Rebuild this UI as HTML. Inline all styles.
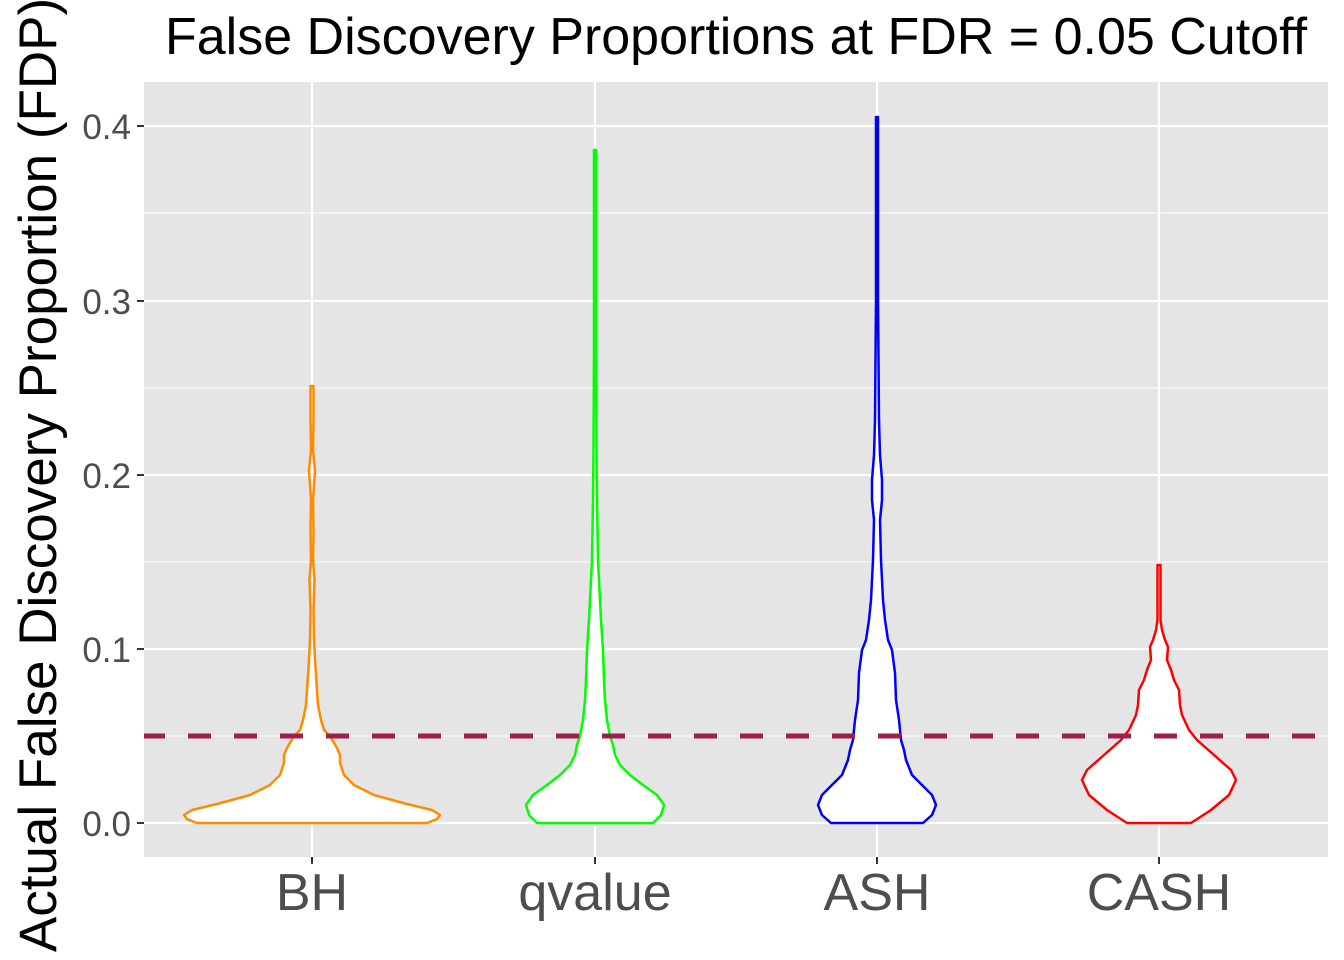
<!DOCTYPE html>
<html><head><meta charset="utf-8"><style>
body{margin:0;background:#fff}
svg{display:block;font-family:"Liberation Sans",sans-serif}
</style></head><body>
<svg id="s" width="1344" height="960" viewBox="0 0 1344 960">
<rect x="144" y="82" width="1184" height="775" fill="#e5e5e5"/>
<g stroke="#fff" stroke-width="1.1">
<line x1="144" x2="1328" y1="736" y2="736"/><line x1="144" x2="1328" y1="562" y2="562"/>
<line x1="144" x2="1328" y1="388" y2="388"/><line x1="144" x2="1328" y1="213" y2="213"/>
</g>
<g stroke="#fff" stroke-width="2.2">
<line x1="144" x2="1328" y1="823" y2="823"/><line x1="144" x2="1328" y1="649" y2="649"/>
<line x1="144" x2="1328" y1="475" y2="475"/><line x1="144" x2="1328" y1="301" y2="301"/>
<line x1="144" x2="1328" y1="126" y2="126"/>
<line x1="312" x2="312" y1="82" y2="857"/><line x1="595" x2="595" y1="82" y2="857"/>
<line x1="877" x2="877" y1="82" y2="857"/><line x1="1159" x2="1159" y1="82" y2="857"/>
</g>
<g id="v"></g>
<line x1="144" x2="1328" y1="736" y2="736" stroke="#A01E4C" stroke-width="5" stroke-dasharray="23 23" stroke-dashoffset="2"/>
<g fill="#4d4d4d" font-size="35" text-anchor="end">
<text x="131" y="836">0.0</text><text x="131" y="662">0.1</text><text x="131" y="488">0.2</text>
<text x="131" y="314">0.3</text><text x="131" y="139">0.4</text>
</g>
<g stroke="#333" stroke-width="2">
<line x1="137" x2="144" y1="823" y2="823"/><line x1="137" x2="144" y1="649" y2="649"/>
<line x1="137" x2="144" y1="475" y2="475"/><line x1="137" x2="144" y1="301" y2="301"/>
<line x1="137" x2="144" y1="126" y2="126"/>
<line x1="312" x2="312" y1="857" y2="864"/><line x1="595" x2="595" y1="857" y2="864"/>
<line x1="877" x2="877" y1="857" y2="864"/><line x1="1159" x2="1159" y1="857" y2="864"/>
</g>
<g fill="#4d4d4d" font-size="52" text-anchor="middle">
<text x="312" y="910">BH</text><text x="595" y="910">qvalue</text>
<text x="877" y="910">ASH</text><text x="1159" y="910">CASH</text>
</g>
<text x="736" y="54" font-size="52" text-anchor="middle" fill="#000">False Discovery Proportions at FDR = 0.05 Cutoff</text>
<text transform="translate(56,475) rotate(-90)" font-size="53" text-anchor="middle" fill="#000">Actual False Discovery Proportion (FDP)</text>
</svg>
<script>
var V=[
[312,"#FF8C00",[[823,115],[819,125],[815,128],[810,120],[804,95],[795,62],[785,42],[775,32],[763,28],[755,28],[748,25],[736,18],[730,12],[720,9],[705,6],[690,5],[675,4],[660,3],[640,2],[610,1.5],[580,2.5],[560,1],[530,1.5],[500,1],[470,3],[450,1],[420,1.5],[386,1.5]]],
[595,"#00FF00",[[823,58],[815,66],[805,69],[795,62],[785,48],[775,35],[765,25],[755,20],[745,18],[736,15],[720,12],[700,10],[680,9],[650,8],[620,6],[600,5],[580,4],[560,3],[500,2],[450,1.5],[350,1],[150,1]]],
[877,"#0000FF",[[823,46],[815,55],[805,59],[795,55],[785,45],[775,35],[760,29],[750,27],[740,24],[720,22],[700,19],[673,18],[650,15],[640,11],[620,8],[600,6],[580,5],[560,4],[520,3],[500,5],[480,5],[455,3],[420,2],[300,1],[117,1]]],
[1159,"#FF0000",[[823,32],[810,52],[795,70],[780,77],[770,72],[755,55],[740,38],[730,30],[715,23],[705,21],[690,20],[680,15],[670,12],[660,8],[647,9],[640,6],[630,3],[620,1.5],[600,1.5],[565,1.5]]]
];
var g=document.getElementById('v'),h='';
V.forEach(function(v){var c=v[0],p=v[2],L=[],R=[];
p.forEach(function(q){L.push((c-q[1]).toFixed(1)+','+q[0]);R.unshift((c+q[1]).toFixed(1)+','+q[0]);});
h+='<path d="M'+L.join(' L')+' L'+R.join(' L')+' Z" fill="#fff" stroke="'+v[1]+'" stroke-width="2.5" stroke-linejoin="round"/>';});
g.innerHTML=h;
</script>
</body></html>
